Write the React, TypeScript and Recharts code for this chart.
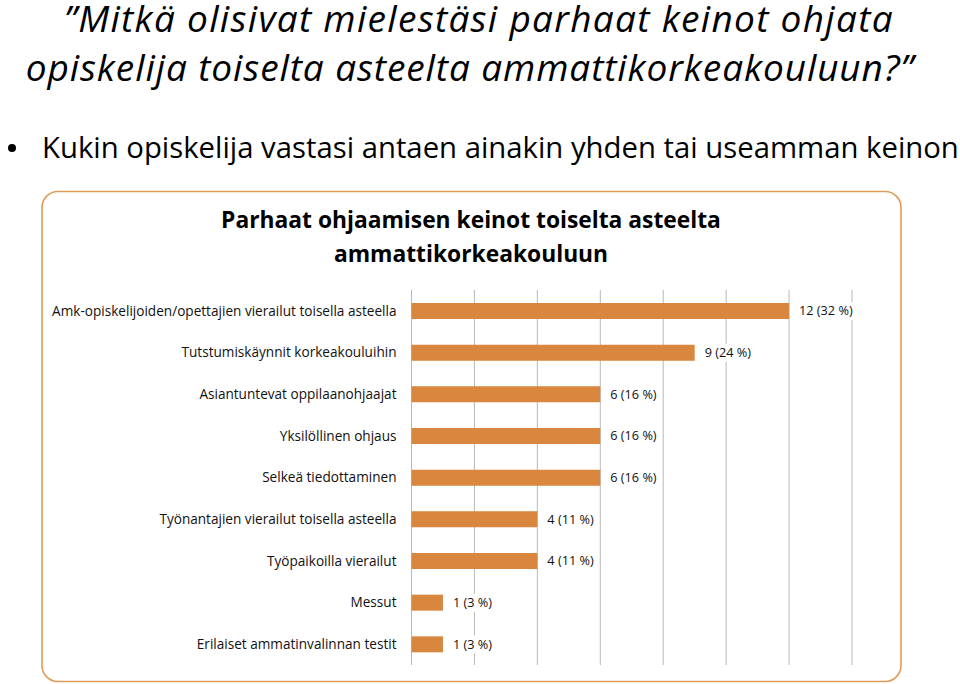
import React from "react";
import { BarChart, Bar, XAxis, YAxis, CartesianGrid, LabelList } from "recharts";

const categories = [
  "Amk-opiskelijoiden/opettajien vierailut toisella asteella",
  "Tutstumiskäynnit korkeakouluihin",
  "Asiantuntevat oppilaanohjaajat",
  "Yksilöllinen ohjaus",
  "Selkeä tiedottaminen",
  "Työnantajien vierailut toisella asteella",
  "Työpaikoilla vierailut",
  "Messut",
  "Erilaiset ammatinvalinnan testit",
];
const counts = [12, 9, 6, 6, 6, 4, 4, 1, 1];
const percents = [32, 24, 16, 16, 16, 11, 11, 3, 3];
const xTicks = [0, 2, 4, 6, 8, 10, 12, 14];

const data = categories.map((name, i) => ({
  name,
  value: counts[i],
  label: `${counts[i]} (${percents[i]} %)`,
}));

const FONT = "'Open Sans', sans-serif";
const BAR = "#D9863F";

const ValueLabel = (props: any) => {
  const { x, y, width, height, index } = props;
  const text = data[index].label;
  const tx = x + width + 10;
  const cy = y + height / 2;
  const w = text.length * 6.2 + 4;
  return (
    <g>
      <rect x={tx - 2} y={cy - 9} width={w} height={18} fill="#fff" />
      <text x={tx} y={cy} dy="0.35em" fontSize={12.7} fontFamily={FONT} fill="#111">
        {text}
      </text>
    </g>
  );
};

export default function App() {
  return (
    <div style={{ position: "absolute", left: 0, top: 0, width: 960, height: 684, background: "#fff" }}>
      <svg width={960} height={684} style={{ position: "absolute", left: 0, top: 0 }}>
        <text x={479} y={32} textAnchor="middle" fontSize={37} letterSpacing={1.3} fontStyle="italic" fontFamily={FONT} fill="#000">
          ”Mitkä olisivat mielestäsi parhaat keinot ohjata
        </text>
        <text x={470} y={81} textAnchor="middle" fontSize={37} letterSpacing={0.9} fontStyle="italic" fontFamily={FONT} fill="#000">
          opiskelija toiselta asteelta ammattikorkeakouluun?”
        </text>
        <circle cx={12} cy={148} r={4} fill="#000" />
        <text x={42} y={158} fontSize={29.3} fontFamily={FONT} fill="#000">
          Kukin opiskelija vastasi antaen ainakin yhden tai useamman keinon
        </text>
        <rect x={42} y={191.5} width={859} height={490} rx={16} ry={16} fill="#fff" stroke="#E29B57" strokeWidth={1.6} />
        <text x={471} y={228} textAnchor="middle" fontSize={22.8} fontWeight="bold" fontFamily={FONT} fill="#000">
          Parhaat ohjaamisen keinot toiselta asteelta
        </text>
        <text x={471} y={262} textAnchor="middle" fontSize={22.8} fontWeight="bold" fontFamily={FONT} fill="#000">
          ammattikorkeakouluun
        </text>
      </svg>
      <div style={{ position: "absolute", left: 0, top: 270 }}>
        <BarChart
          width={960}
          height={410}
          data={data}
          layout="vertical"
          margin={{ top: 20, right: 108, bottom: 15, left: 0 }}
          barCategoryGap={0}
        >
          <CartesianGrid horizontal={false} vertical={true} stroke="#B8B8B8" />
          <XAxis type="number" domain={[0, 14]} ticks={xTicks} hide />
          <YAxis
            type="category"
            dataKey="name"
            width={411.5}
            axisLine={false}
            tickLine={false}
            tickSize={0}
            tickMargin={15}
            interval={0}
            tick={{ fontSize: 13.6, fontFamily: FONT, fill: "#111" }}
          />
          <Bar dataKey="value" fill={BAR} barSize={16} isAnimationActive={false}>
            <LabelList dataKey="label" content={<ValueLabel />} />
          </Bar>
        </BarChart>
      </div>
    </div>
  );
}
